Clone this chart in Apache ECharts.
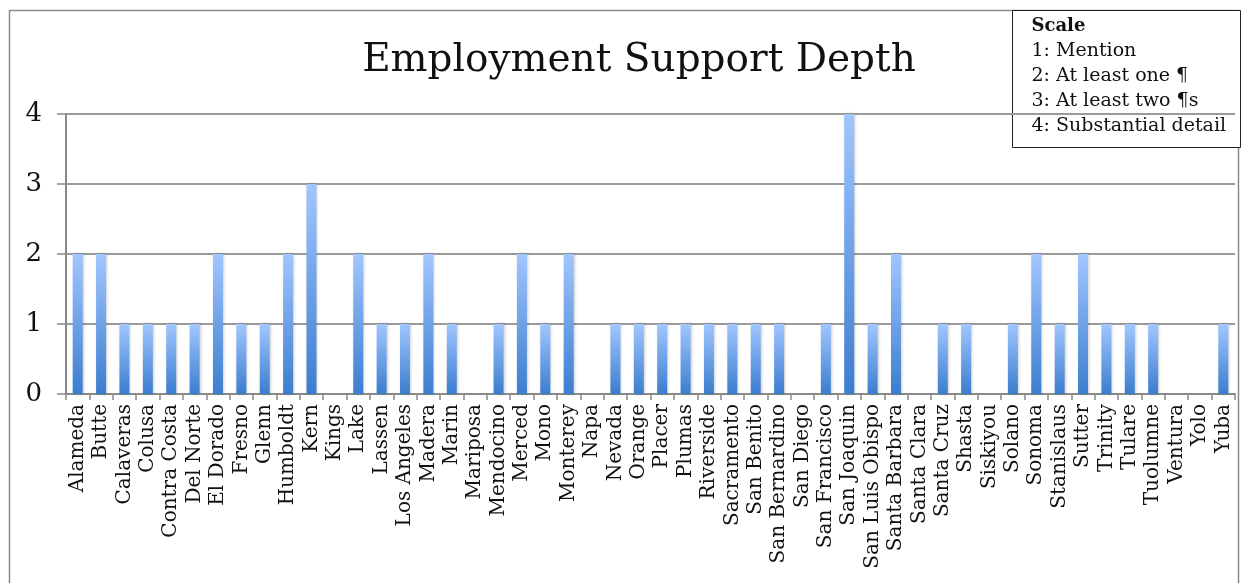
<!DOCTYPE html>
<html>
<head>
<meta charset="utf-8">
<script src="https://cdn.jsdelivr.net/npm/echarts@6/dist/echarts.min.js"></script>
<style>
  html, body { margin: 0; padding: 0; background: #fff; }
  #chart { width: 1249px; height: 583px; }
</style>
</head>
<body>
<div id="chart"></div>
<script>
// Counties of California, in alphabetical order
const counties = [
  'Alameda', 'Butte', 'Calaveras', 'Colusa', 'Contra Costa', 'Del Norte', 'El Dorado',
  'Fresno', 'Glenn', 'Humboldt', 'Kern', 'Kings', 'Lake', 'Lassen', 'Los Angeles',
  'Madera', 'Marin', 'Mariposa', 'Mendocino', 'Merced', 'Mono', 'Monterey', 'Napa',
  'Nevada', 'Orange', 'Placer', 'Plumas', 'Riverside', 'Sacramento', 'San Benito',
  'San Bernardino', 'San Diego', 'San Francisco', 'San Joaquin', 'San Luis Obispo',
  'Santa Barbara', 'Santa Clara', 'Santa Cruz', 'Shasta', 'Siskiyou', 'Solano',
  'Sonoma', 'Stanislaus', 'Sutter', 'Trinity', 'Tulare', 'Tuolumne', 'Ventura',
  'Yolo', 'Yuba'
];

// Depth score (0-4) for each county
const depth = [
  2, 2, 1, 1, 1, 1, 2,
  1, 1, 2, 3, 0, 2, 1, 1,
  2, 1, 0, 1, 2, 1, 2, 0,
  1, 1, 1, 1, 1, 1, 1,
  1, 0, 1, 4, 1,
  2, 0, 1, 1, 0, 1,
  2, 1, 2, 1, 1, 1, 0,
  0, 1
];

// Text of the scale key
const scaleTitle = 'Scale';
const scaleLines = [
  '1: Mention',
  '2: At least one \u00B6',
  '3: At least two \u00B6s',
  '4: Substantial detail'
];

const chartTitle = 'Employment Support Depth';
const serif = '"DejaVu Serif", "Liberation Serif", serif';

const chart = echarts.init(document.getElementById('chart'), null, { renderer: 'canvas' });

const keyChildren = [
  {
    type: 'rect',
    shape: { x: 0, y: 0, width: 228, height: 137 },
    style: { fill: '#fff', stroke: '#222', lineWidth: 1 }
  },
  {
    type: 'text',
    x: 19, y: 16,
    style: { text: scaleTitle, font: 'bold 18px ' + serif, fill: '#111', verticalAlign: 'middle' }
  }
].concat(scaleLines.map((t, i) => ({
  type: 'text',
  x: 19, y: 41 + i * 25,
  style: { text: t, font: '19px ' + serif, fill: '#111', verticalAlign: 'middle' }
})));

chart.setOption({
  animation: false,
  backgroundColor: '#fff',
  title: {
    text: chartTitle,
    left: 634,
    textAlign: 'center',
    top: 36,
    textStyle: { fontFamily: serif, fontSize: 39, fontWeight: 'normal', color: '#111' }
  },
  grid: { left: 66, right: 14, top: 114, bottom: 189, containLabel: false },
  xAxis: {
    type: 'category',
    data: counties,
    axisLine: { lineStyle: { color: '#8a8a8a', width: 2 } },
    axisTick: { show: true, length: 6, lineStyle: { color: '#8a8a8a', width: 1.5 } },
    axisLabel: {
      interval: 0,
      rotate: 90,
      margin: 10,
      fontFamily: serif,
      fontSize: 20,
      color: '#111'
    }
  },
  yAxis: {
    type: 'value',
    min: 0,
    max: 4,
    interval: 1,
    axisLine: { show: true, lineStyle: { color: '#8a8a8a', width: 2 } },
    axisTick: { show: true, length: 9, lineStyle: { color: '#8a8a8a', width: 1.5 } },
    splitLine: { lineStyle: { color: '#9a9a9a', width: 2 } },
    axisLabel: {
      margin: 24,
      fontFamily: serif,
      fontSize: 26,
      color: '#111'
    }
  },
  series: [{
    type: 'bar',
    data: depth,
    barWidth: 10,
    itemStyle: {
      color: new echarts.graphic.LinearGradient(0, 0, 0, 1, [
        { offset: 0, color: '#a1c6ff' },
        { offset: 1, color: '#3b7dcf' }
      ]),
      shadowColor: 'rgba(0,0,0,0.25)',
      shadowBlur: 3,
      shadowOffsetX: 1,
      shadowOffsetY: 0
    }
  }],
  graphic: [
    {
      type: 'rect',
      z: -1,
      shape: { x: 9.5, y: 10.5, width: 1229, height: 590 },
      style: { fill: 'none', stroke: '#8a8a8a', lineWidth: 1.5 }
    },
    {
      type: 'group',
      x: 1012.5,
      y: 10.5,
      z: 10,
      children: keyChildren
    }
  ]
});
</script>
</body>
</html>
